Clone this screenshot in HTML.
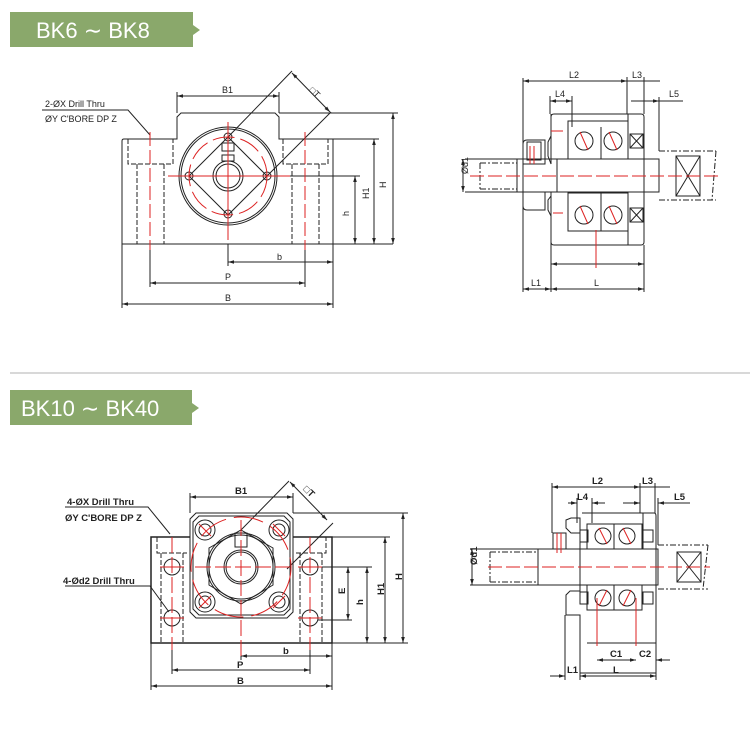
<!DOCTYPE html>
<html><head><meta charset="utf-8"><style>
html,body{margin:0;padding:0;background:#fff;}
svg{display:block;}
text{font-family:"Liberation Sans",Arial,sans-serif;}
</style></head><body>
<svg width="750" height="738" viewBox="0 0 750 738" xmlns="http://www.w3.org/2000/svg">
<defs>
<marker id="a" viewBox="0 0 10 10" refX="10" refY="5" markerWidth="6" markerHeight="6" orient="auto-start-reverse"><path d="M0,2 L10,5 L0,8 z" fill="#222"/></marker>
</defs>
<!-- headers -->
<rect x="10" y="12" width="183" height="35" fill="#8aa86b"/>
<path d="M193,25 L200,30 L193,35 z" fill="#8aa86b"/>
<text x="36" y="38" font-size="22" fill="#fff">BK6 ∼ BK8</text>
<line x1="10" y1="373" x2="750" y2="373" stroke="#ccc" stroke-width="1.5"/>
<rect x="10" y="390" width="182" height="35" fill="#8aa86b"/>
<path d="M192,403 L199,408 L192,413 z" fill="#8aa86b"/>
<text x="21" y="416" font-size="22" fill="#fff">BK10 ∼ BK40</text>

<g fill="none" stroke="#222" stroke-width="1">
<!-- ===== TOP LEFT ===== -->
<path d="M122,141 Q122,139 124,139 L177,139 L177,117 L181,113 L275,113 L279,117 L279,139 L333,139 L333,244 L122,244 Z"/>
<g stroke-dasharray="5,2">
<path d="M128,139 V164 H173 V139 M137,164 V244 M164,164 V244"/>
<path d="M283,139 V164 H328 V139 M292,164 V244 M319,164 V244"/>
</g>
<circle cx="228" cy="176" r="49"/><circle cx="228" cy="176" r="47"/>
<circle cx="228" cy="176" r="15"/><circle cx="228" cy="176" r="12"/>
<path d="M228,137 L267,176 L228,215 L189,176 Z"/>
<circle cx="228" cy="137" r="4"/><circle cx="267" cy="176" r="4"/><circle cx="228" cy="214" r="4"/><circle cx="189" cy="176" r="4"/>
<rect x="222" y="143" width="12" height="8"/><rect x="222" y="155" width="12" height="6"/>
<!-- dims -->
<path d="M177,113 V92 M279,113 V92 M279,113 H398 M333,139 H379 M270,176 H360 M228,244 V266 M333,244 V266 M150,244 V287 M305,244 V287 M122,244 V308 M333,266 V308"/>
<line x1="177" y1="96" x2="279" y2="96" marker-start="url(#a)" marker-end="url(#a)"/>
<line x1="393" y1="113" x2="393" y2="244" marker-start="url(#a)" marker-end="url(#a)"/>
<line x1="374" y1="139" x2="374" y2="244" marker-start="url(#a)" marker-end="url(#a)"/>
<line x1="355" y1="176" x2="355" y2="244" marker-start="url(#a)" marker-end="url(#a)"/>
<line x1="228" y1="262" x2="333" y2="262" marker-start="url(#a)" marker-end="url(#a)"/>
<line x1="150" y1="283" x2="305" y2="283" marker-start="url(#a)" marker-end="url(#a)"/>
<line x1="122" y1="304" x2="333" y2="304" marker-start="url(#a)" marker-end="url(#a)"/>
<path d="M228,137 L292,71 M267,176 L331,112"/>
<line x1="292" y1="73" x2="330" y2="112" marker-start="url(#a)" marker-end="url(#a)"/>
<path d="M42,110 H128 L150,135"/>
<line x1="333" y1="244" x2="393" y2="244"/>
</g>
<g stroke="#d22" stroke-width="1" fill="none">
<path d="M228,122 V240 M168,176 H290"/>
<path d="M150,132 V250 M305,132 V250" stroke-dasharray="14,4"/>
<circle cx="228" cy="176" r="39" stroke-dasharray="22,6"/>
</g>
<g font-size="9" fill="#222">
<text x="222" y="93">B1</text><text x="376" y="182" transform="rotate(-90 384 180)">H</text>
<text x="362" y="198" transform="rotate(-90 366 195)">H1</text>
<text x="342" y="215" transform="rotate(-90 346 212)">h</text>
<text x="277" y="260">b</text><text x="225" y="280">P</text><text x="225" y="301">B</text>
<text x="309" y="94" transform="rotate(45 313 92)">□T</text>
<text x="45" y="107">2-ØX Drill Thru</text><text x="45" y="122">ØY C'BORE DP Z</text>
</g>

<!-- ===== TOP RIGHT ===== -->
<g fill="none" stroke="#222" stroke-width="1">
<path d="M551,117 Q551,114 554,114 L641,114 Q644,114 644,117 V242 Q644,245 641,245 L554,245 Q551,245 551,242 V216 L548,210 V200 L551,196 M551,164 L548,156 V142 L551,136 Z"/>
<path d="M551,114 V164 M551,192 V245"/>
<rect x="568" y="121" width="60" height="38"/><rect x="568" y="193" width="60" height="38"/>
<path d="M628,114 V159 M628,193 V245"/>
<path d="M601,127 V159 M601,193 V231"/>
<circle cx="584" cy="141" r="9"/><circle cx="613" cy="141" r="9"/>
<circle cx="584" cy="215" r="9"/><circle cx="613" cy="215" r="9"/>
<rect x="630" y="134" width="13" height="14"/><path d="M630,134 L643,148 M643,134 L630,148"/>
<rect x="630" y="208" width="13" height="14"/><path d="M630,208 L643,222 M643,208 L630,222"/>
<path d="M523,144 Q523,140 527,140 H545 V164 H523 Z M523,192 H545 V210 H527 Q523,210 523,206 Z"/>
<rect x="527" y="142" width="14" height="18"/>
<path d="M517,159 H659 V192 H517 Z M557,159 V192"/>
<path d="M480,163 H517 M480,189 H517 M480,163 V189 M659,151 H716 M659,200 H716 M716,151 L712,200" stroke-dasharray="6,2,2,2"/>
<rect x="676" y="156" width="24" height="40"/><path d="M676,156 L700,196 M700,156 L676,196"/>
<path d="M523,140 V292 M551,245 V292 M644,245 V292 M627,77 V114 M644,77 V114 M550,96 V114 M572,96 V127 M659,97 V151 M523,78 V140 M465,159 H517 M465,192 H517"/>
<line x1="523" y1="81" x2="627" y2="81" marker-start="url(#a)" marker-end="url(#a)"/>
<line x1="627" y1="81" x2="644" y2="81"/><line x1="644" y1="81" x2="660" y2="81"/>
<line x1="550" y1="101" x2="572" y2="101" marker-start="url(#a)" marker-end="url(#a)"/>
<line x1="631" y1="101" x2="659" y2="101" marker-end="url(#a)"/><line x1="659" y1="101" x2="683" y2="101"/>
<line x1="551" y1="264" x2="644" y2="264" marker-start="url(#a)" marker-end="url(#a)"/>
<line x1="523" y1="289" x2="551" y2="289" marker-start="url(#a)" marker-end="url(#a)"/>
<line x1="551" y1="289" x2="644" y2="289" marker-start="url(#a)" marker-end="url(#a)"/>
<line x1="463" y1="159" x2="463" y2="192" marker-start="url(#a)" marker-end="url(#a)"/>
</g>
<g stroke="#d22" fill="none">
<path d="M470,176 H718" stroke-dasharray="14,4"/>
<path d="M530,146 V164 M534,146 V164 M596,230 V268 M580,132 L588,150 M609,132 L617,150 M580,206 L588,224 M609,206 L617,224 M551,131 H563 M553,213 H563"/>
</g>
<g font-size="9" fill="#222">
<text x="569" y="78">L2</text><text x="632" y="78">L3</text><text x="555" y="97">L4</text><text x="669" y="97">L5</text>
<text x="531" y="286">L1</text><text x="594" y="286">L</text>
<text x="460" y="186" transform="rotate(-90 458 176)">Ød1</text>
</g>

<!-- ===== BOTTOM LEFT ===== -->
<g fill="none" stroke="#222" stroke-width="1">
<rect x="151" y="537" width="181" height="106"/>
<rect x="151" y="537" width="181" height="106" stroke-width="1.5"/>
<g stroke-dasharray="5,2">
<path d="M157,537 V553 H187 M296,553 H326 V537 M161,553 V643 M183,553 V643 M300,553 V643 M322,553 V643"/>
</g>
<path d="M196,513 H287 L293,519 V612 L287,618 H196 L190,612 V519 Z" fill="#fff"/>
<path d="M199,516 H284 L290,522 V609 L284,615 H199 L193,609 V522 Z"/>
<circle cx="205" cy="530" r="10"/><circle cx="205" cy="530" r="6"/>
<circle cx="279" cy="530" r="10"/><circle cx="279" cy="530" r="6"/>
<circle cx="205" cy="602" r="10"/><circle cx="205" cy="602" r="6"/>
<circle cx="279" cy="602" r="10"/><circle cx="279" cy="602" r="6"/>
<path d="M241,530 L273,548 L273,585 L241,604 L209,585 L209,548 Z"/>
<circle cx="241" cy="567" r="34"/><circle cx="241" cy="567" r="32"/>
<circle cx="241" cy="567" r="17"/><circle cx="241" cy="567" r="15"/>
<rect x="235" y="533" width="12" height="14"/>
<circle cx="172" cy="567" r="8"/><circle cx="172" cy="618" r="8"/>
<circle cx="310" cy="567" r="8"/><circle cx="310" cy="618" r="8"/>
<path d="M190,513 V493 M293,513 V493 M293,513 H408 M332,537 H390 M318,567 H372 M318,620 H352 M241,643 V660 M332,643 V690 M172,643 V674 M310,643 V674 M151,643 V690 M332,643 H408"/>
<line x1="190" y1="497" x2="293" y2="497" marker-start="url(#a)" marker-end="url(#a)"/>
<line x1="403" y1="513" x2="403" y2="643" marker-start="url(#a)" marker-end="url(#a)"/>
<line x1="385" y1="537" x2="385" y2="643" marker-start="url(#a)" marker-end="url(#a)"/>
<line x1="367" y1="567" x2="367" y2="643" marker-start="url(#a)" marker-end="url(#a)"/>
<line x1="348" y1="567" x2="348" y2="620" marker-start="url(#a)" marker-end="url(#a)"/>
<line x1="241" y1="656" x2="332" y2="656" marker-start="url(#a)" marker-end="url(#a)"/>
<line x1="172" y1="670" x2="310" y2="670" marker-start="url(#a)" marker-end="url(#a)"/>
<line x1="151" y1="686" x2="332" y2="686" marker-start="url(#a)" marker-end="url(#a)"/>
<path d="M280,537 L287,476 M329,527 L336,520" stroke="none"/>
<path d="M241,530 L289,481 M287,569 L333,523"/>
<line x1="290" y1="482" x2="327" y2="520" marker-start="url(#a)" marker-end="url(#a)"/>
<path d="M65,507 H148 L170,534 M65,586 H150 L169,612"/>
</g>
<g stroke="#d22" fill="none">
<path d="M241,520 V660 M195,567 H290 M172,537 V650 M310,537 V650" stroke-dasharray="16,4"/>
<path d="M160,567 H184 M160,618 H184 M298,567 H322 M298,618 H322 M199,524 L211,536 M273,524 L285,536 M199,608 L211,596 M273,608 L285,596"/>
<circle cx="241" cy="567" r="50" stroke-dasharray="30,8"/>
</g>
<g font-size="9.5" font-weight="bold" fill="#222">
<text x="235" y="494">B1</text><text x="396" y="582" transform="rotate(-90 398 578)">H</text>
<text x="376" y="595" transform="rotate(-90 380 591)">H1</text>
<text x="358" y="606" transform="rotate(-90 360 603)">h</text>
<text x="340" y="595" transform="rotate(-90 342 592)">E</text>
<text x="283" y="654">b</text><text x="237" y="668">P</text><text x="237" y="684">B</text>
<text x="303" y="493" transform="rotate(45 307 491)">□T</text>
<text x="67" y="505">4-ØX Drill Thru</text><text x="65" y="521">ØY C'BORE DP Z</text>
<text x="63" y="584">4-Ød2 Drill Thru</text>
</g>

<!-- ===== BOTTOM RIGHT ===== -->
<g fill="none" stroke="#222" stroke-width="1">
<path d="M582,513 H654 Q656,513 656,516 V673 H580 V615 L566,615 V595 L570,591 H580 V585 M580,549 V533 L571,533 L566,528 V520 L571,518 H580 Z"/>
<rect x="587" y="524" width="55" height="25"/><rect x="587" y="585" width="55" height="25"/>
<path d="M587,643 H656 M614,524 V549 M614,585 V610 M643,513 V549"/>
<circle cx="603" cy="536" r="8"/><circle cx="627" cy="536" r="8"/>
<circle cx="603" cy="598" r="8"/><circle cx="627" cy="598" r="8"/>
<rect x="580" y="530" width="8" height="12"/><rect x="643" y="530" width="10" height="12"/>
<rect x="580" y="592" width="8" height="12"/><rect x="643" y="592" width="10" height="12"/>
<rect x="553" y="533" width="13" height="16"/>
<path d="M538,549 H658 V585 H538 Z M580,549 V585"/>
<path d="M490,552 H538 M490,582 H538 M490,552 V582 M658,545 H708 M658,589 H708 M708,545 L703,589" stroke-dasharray="6,2,2,2"/>
<rect x="677" y="552" width="24" height="30"/><path d="M677,552 L701,582 M701,552 L677,582"/>
<path d="M552,483 V533 M640,483 V513 M655,483 V513 M577,498 V523 M592,498 V523 M658,498 V545 M565,615 V680 M580,673 V680 M656,673 V680 M470,549 H538 M470,585 H538"/>
<line x1="552" y1="487" x2="640" y2="487" marker-start="url(#a)" marker-end="url(#a)"/>
<line x1="640" y1="487" x2="670" y2="487"/>
<line x1="568" y1="503" x2="577" y2="503" marker-end="url(#a)"/><line x1="592" y1="503" x2="605" y2="503" marker-start="url(#a)"/>
<line x1="623" y1="503" x2="640" y2="503" marker-end="url(#a)"/><line x1="658" y1="503" x2="690" y2="503" marker-start="url(#a)"/>
<line x1="597" y1="660" x2="636" y2="660" marker-start="url(#a)" marker-end="url(#a)"/>
<line x1="656" y1="660" x2="670" y2="660" marker-start="url(#a)"/>
<line x1="550" y1="676" x2="565" y2="676" marker-end="url(#a)"/>
<line x1="580" y1="676" x2="656" y2="676" marker-start="url(#a)" marker-end="url(#a)"/>
<line x1="472" y1="549" x2="472" y2="585" marker-start="url(#a)" marker-end="url(#a)"/>
</g>
<g stroke="#d22" fill="none">
<path d="M488,567 H710" stroke-dasharray="14,4"/>
<path d="M597,598 V646 M636,598 V646 M557,533 V553 M561,533 V553 M599,528 L607,544 M623,528 L631,544 M599,606 L607,590 M623,606 L631,590"/>
</g>
<g font-size="9.5" font-weight="bold" fill="#222">
<text x="592" y="484">L2</text><text x="642" y="484">L3</text><text x="577" y="500">L4</text><text x="674" y="500">L5</text>
<text x="610" y="657">C1</text><text x="639" y="657">C2</text>
<text x="567" y="673">L1</text><text x="613" y="673">L</text>
<text x="469" y="577" transform="rotate(-90 467 567)">Ød1</text>
</g>
</svg>
</body></html>
